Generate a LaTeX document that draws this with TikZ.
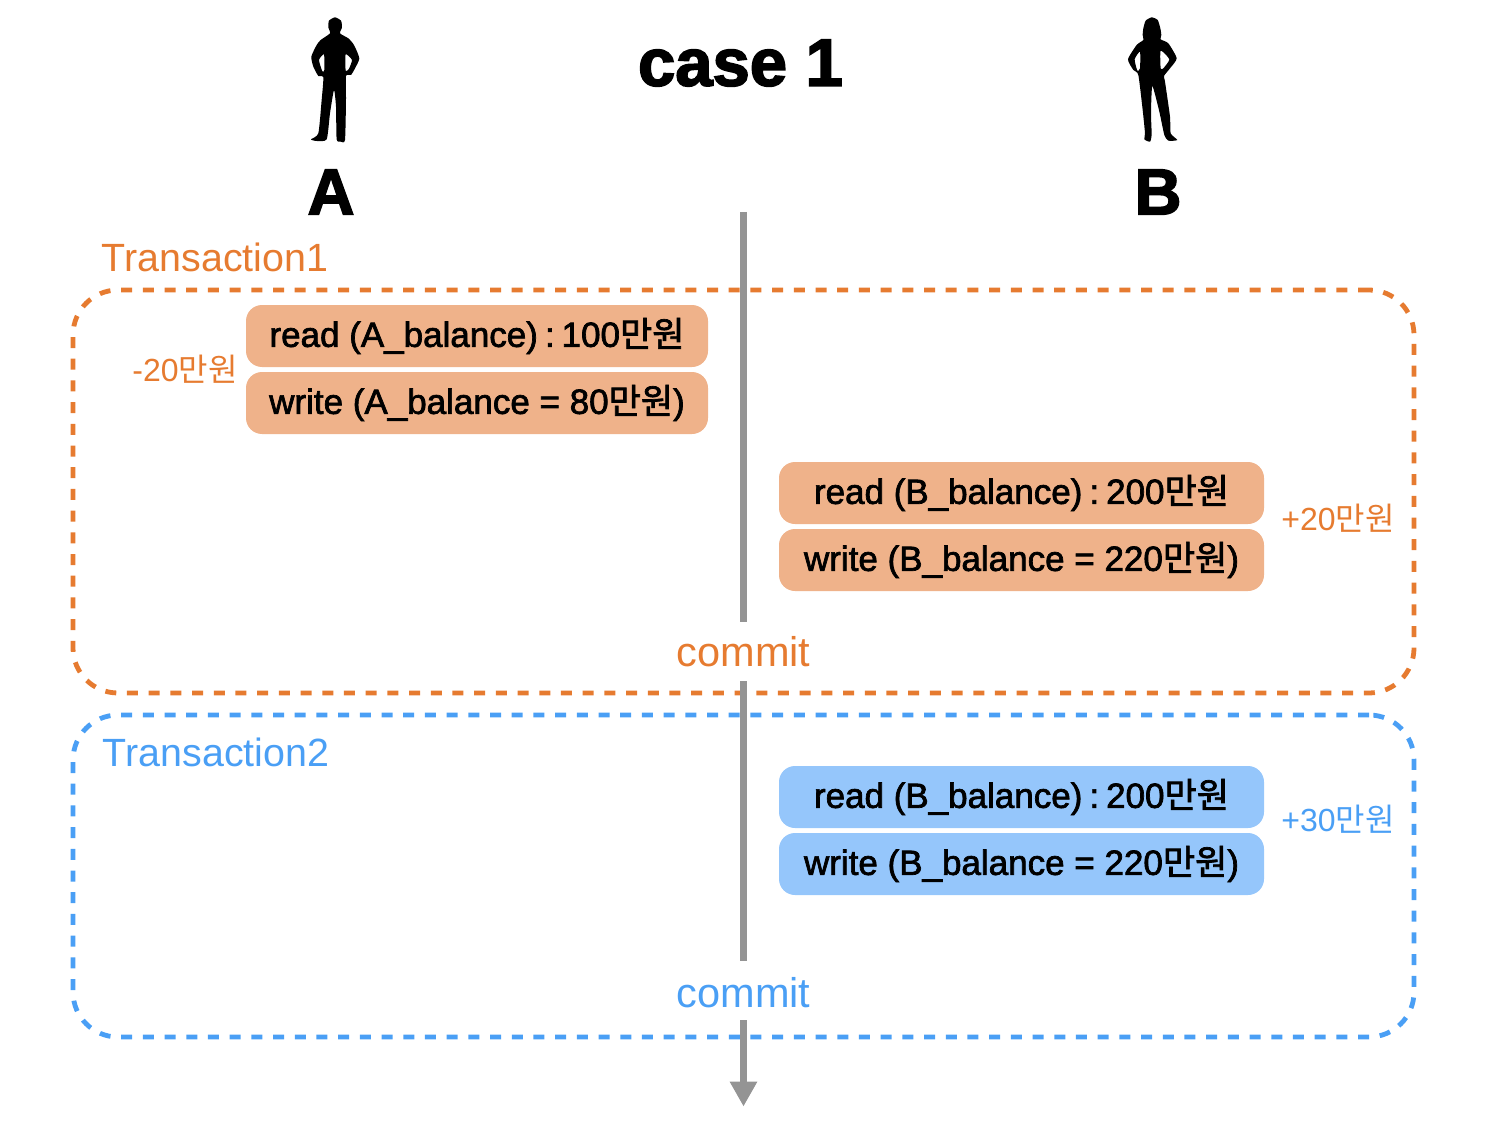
\documentclass[tikz,border=0pt]{standalone}
\usepackage{fontspec}
\usetikzlibrary{arrows.meta}
\setmainfont{Liberation Sans}
\newfontfamily\krfont{Noto Sans CJK KR}
\newfontfamily\medfont[FakeBold=2]{Liberation Sans}
\newfontfamily\krmedfont[FakeBold=2]{Noto Sans CJK KR}
\newfontfamily\heavyfont[FakeBold=2.5]{Liberation Sans Bold}
\newcommand{\won}{{\krfont 만원}}
\newcommand{\wonmed}{{\krmedfont 만원}}
\definecolor{txorange}{HTML}{E67B30}
\definecolor{txblue}{HTML}{4A9FF5}
\definecolor{boxorange}{HTML}{EFB28A}
\definecolor{boxblue}{HTML}{95C6FB}
\definecolor{timegray}{HTML}{949494}
\tikzset{
  frame/.style={draw=#1, line width=4.8pt, dash pattern=on 11pt off 10.7pt, rounded corners=45pt, inner sep=0pt, minimum width=1341pt},
  opbox/.style={fill=#1, rounded corners=16pt, minimum height=62pt, inner sep=0pt, text=black, font=\medfont\fontsize{35}{38}\selectfont},
  timeline/.style={draw=timegray, line width=7pt},
  heavy/.style={font=\heavyfont\fontsize{65}{70}\selectfont},
  txlabel/.style={font=\fontsize{39.4}{44}\selectfont},
  amount/.style={font=\fontsize{32}{36}\selectfont},
  commitlabel/.style={font=\fontsize{41.5}{46}\selectfont, inner sep=0pt},
}
\begin{document}
\begin{tikzpicture}[x=1pt, y=-1pt]
\useasboundingbox (0,0) rectangle (1502,1126);
% dashed frames
\node [frame=txorange, minimum height=403pt] (tx1) at (743.5,491.5) {};
\node [frame=txblue, minimum height=322pt] (tx2) at (743.5,876) {};
% people
\begin{scope}[shift={(280,0)}, x=0.3333pt, y=-0.3333pt]
\fill [even odd rule, tension=0.35] plot [smooth cycle] coordinates {(165,52) (183,62) (186,82) (180,100) (205,115) (222,135) (238,175) (225,205) (213,225) (198,228) (198,300) (195,420) (182,425) (170,418) (168,320) (162,270) (150,340) (140,418) (110,423) (93,418) (115,400) (125,300) (130,232) (115,228) (100,200) (94,170) (110,135) (122,120) (150,100) (145,82) (147,62)}
  plot [smooth cycle] coordinates {(117,180) (132,163) (133,210) (127,214)}
  plot [smooth cycle] coordinates {(197,163) (216,180) (206,208) (197,212)};
\end{scope}
\begin{scope}[shift={(1100,0)}, x=0.3333pt, y=-0.3333pt]
\fill [even odd rule, tension=0.35] plot [smooth cycle] coordinates {(155,52) (173,60) (181,85) (184,105) (182,118) (205,130) (230,175) (210,205) (192,228) (195,245) (210,350) (212,400) (232,420) (205,422) (193,405) (178,335) (157,258) (153,340) (155,405) (150,425) (133,418) (135,400) (128,330) (115,225) (100,210) (84,178) (110,135) (130,120) (128,105) (130,85) (137,62)}
  plot [smooth cycle] coordinates {(104,178) (120,155) (120,205) (112,212)}
  plot [smooth cycle] coordinates {(182,152) (208,178) (190,205) (182,205)};
\end{scope}
\node [heavy] (userA) at (331,192) {A};
\node [heavy] (userB) at (1158,192) {B};
\node [heavy, font=\heavyfont\fontsize{67}{70}\selectfont] (title) at (740.5,63) {case 1};
% timeline
\coordinate (top) at (743.5,212);
\coordinate (end) at (743.5,1106.5);
\node [commitlabel, text=txorange, minimum height=59pt] (commit1) at (743.5,651.5) {commit};
\node [commitlabel, text=txblue, minimum height=54pt] (commit2) at (743.5,993) {commit};
\draw [timeline] (top) -- (commit1);
\draw [timeline, shorten >=5pt] (commit1) -- (commit2);
\draw [timeline, -{Triangle[width=26pt, length=25pt]}] (commit2) -- (end);
% transaction 1
\node [txlabel, text=txorange] (name1) at (215,257) {Transaction1};
\node [opbox=boxorange, minimum width=462pt] (readA) at (477,336) {read (A\_balance)\hspace{0.2em}:\hspace{0.2em}100\wonmed};
\node [opbox=boxorange, minimum width=462pt] (writeA) at (477,403) {write (A\_balance = 80\wonmed)};
\node [amount, text=txorange] (diffA) at (185,369) {-20\won};
\node [opbox=boxorange, minimum width=485pt] (readB) at (1021.5,493) {read (B\_balance)\hspace{0.2em}:\hspace{0.2em}200\wonmed};
\node [opbox=boxorange, minimum width=485pt] (writeB) at (1021.5,560) {write (B\_balance = 220\wonmed)};
\node [amount, text=txorange] (diffB) at (1338,518) {+20\won};
% transaction 2
\node [txlabel, text=txblue] (name2) at (216,752) {Transaction2};
\node [opbox=boxblue, minimum width=485pt] (readC) at (1021.5,797) {read (B\_balance)\hspace{0.2em}:\hspace{0.2em}200\wonmed};
\node [opbox=boxblue, minimum width=485pt] (writeC) at (1021.5,864) {write (B\_balance = 220\wonmed)};
\node [amount, text=txblue] (diffC) at (1338,819) {+30\won};
\end{tikzpicture}
\end{document}
